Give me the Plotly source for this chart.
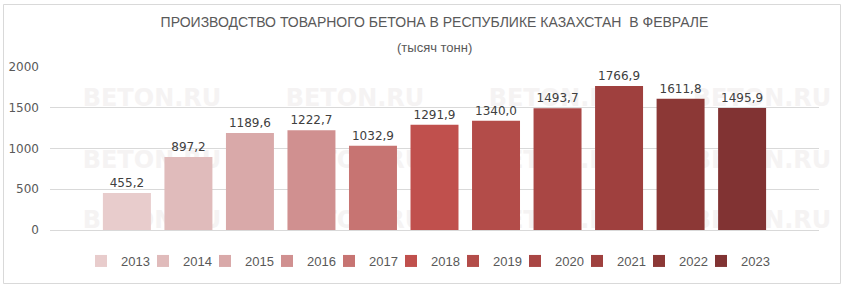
import plotly.graph_objects as go

years = ["2013", "2014", "2015", "2016", "2017", "2018", "2019", "2020", "2021", "2022", "2023"]
values = [455.2, 897.2, 1189.6, 1222.7, 1032.9, 1291.9, 1340.0, 1493.7, 1766.9, 1611.8, 1495.9]
colors = ["#E8CCCC", "#E0BBBB", "#D9A9A9", "#D09090", "#C77472", "#C0504D",
          "#B34C49", "#A94644", "#9F403E", "#8C3836", "#813333"]
y_ticks = [0, 500, 1000, 1500, 2000]

title_line1 = "ПРОИЗВОДСТВО ТОВАРНОГО БЕТОНА В РЕСПУБЛИКЕ КАЗАХСТАН  В ФЕВРАЛЕ"
title_line2 = "(тысяч тонн)"

W, H = 846, 290
L, R, T, B = 50, 27, 67, 60

pw = W - L - R
ph = H - T - B
def px_x(p):
    return (p - L) / pw
def px_y(p):
    return (H - B - p) / ph

legend_font = dict(family="Liberation Sans Narrow, Arial Narrow, sans-serif", size=13, color="#595959")

fig = go.Figure()
legends = {}
for i, (yr, v, c) in enumerate(zip(years, values, colors)):
    key = "legend" if i == 0 else f"legend{i + 1}"
    fig.add_trace(go.Bar(
        x=[yr], y=[v], name=yr, marker=dict(color=c, line=dict(width=0)),
        width=0.78, legend=key,
        text=[f"{v:.1f}".replace(".", ",")], textposition="outside",
        textfont=dict(family="DejaVu Sans", size=12, color="#404040"),
        cliponaxis=False,
    ))
    legends[key] = dict(orientation="h", x=px_x(81 + 62 * i), xanchor="left",
                        y=px_y(261), yanchor="middle", font=legend_font,
                        bgcolor="rgba(0,0,0,0)", itemwidth=30)

shapes = [dict(type="rect", xref="paper", yref="paper",
               x0=px_x(3.5), x1=px_x(840.5), y0=px_y(283.5), y1=px_y(4.5),
               line=dict(color="#D9D9D9", width=1), fillcolor="rgba(0,0,0,0)", layer="below")]
# faint watermarks
for cx in [152, 355, 558, 762]:
    for cy in [96, 158, 218]:
        shapes.append(dict(type="rect", xref="paper", yref="paper",
                           x0=px_x(cx - 80), x1=px_x(cx + 80), y0=px_y(cy + 10), y1=px_y(cy - 10),
                           line=dict(width=0), fillcolor="rgba(0,0,0,0)", layer="below",
                           label=dict(text="BETON.RU", font=dict(family="DejaVu Sans", size=24, color="#F5F3F3", weight="bold"))))

title_font = dict(family="Liberation Sans Narrow, Arial Narrow, sans-serif", size=14, color="#595959")

fig.update_layout(
    width=W, height=H,
    margin=dict(l=L, r=R, t=T, b=B, autoexpand=False),
    paper_bgcolor="white", plot_bgcolor="white",
    barmode="overlay",
    showlegend=True,
    title=dict(text=title_line1, x=0.5, xref="paper", xanchor="center",
               y=1 - 22 / H, yanchor="middle", font=title_font),
    annotations=[dict(text=title_line2, x=0.5, xref="paper", xanchor="center",
                      y=px_y(47), yref="paper", yanchor="middle", showarrow=False,
                      font=dict(family=title_font["family"], size=13, color="#595959"))],
    xaxis=dict(type="category", categoryorder="array", categoryarray=years,
               range=[-1.25, 11.25], showticklabels=False, showgrid=False,
               showline=True, linecolor="#D9D9D9", linewidth=1, ticks="", zeroline=False),
    yaxis=dict(range=[0, 2000], tickvals=y_ticks, showgrid=True, gridcolor="#D9D9D9", gridwidth=1,
               zeroline=False, showline=False, ticks="", ticklabelstandoff=10,
               tickfont=dict(family="DejaVu Sans", size=12, color="#595959")),
    shapes=shapes,
    **legends,
)

fig.write_html("out.html")
